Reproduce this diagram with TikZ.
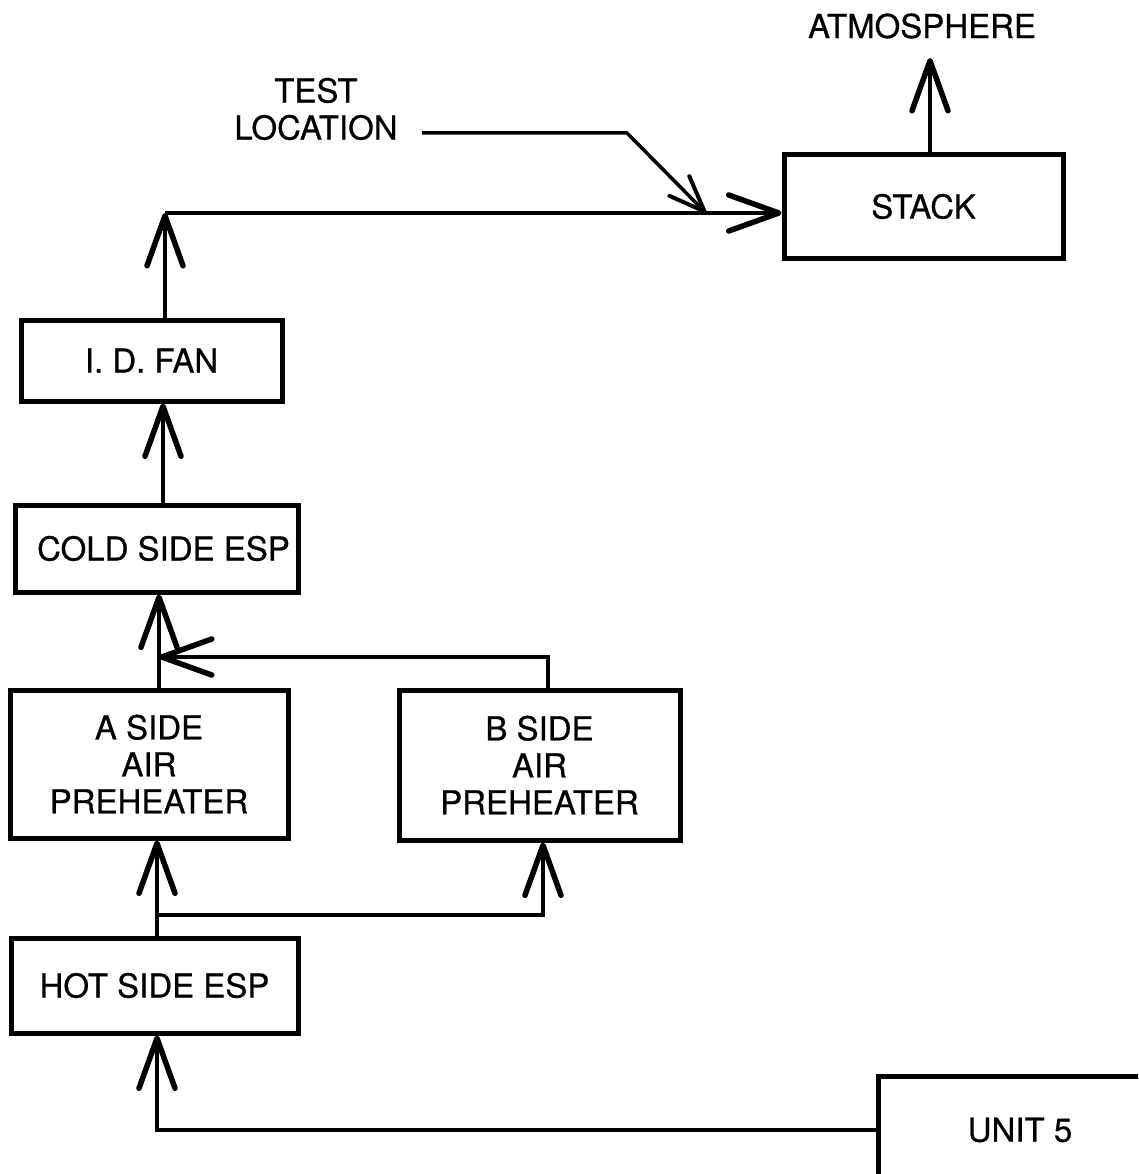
\documentclass[tikz,border=0pt]{standalone}
\usepackage{fontspec}
\setmainfont{TeX Gyre Heros}[FakeBold=0.6]
\usetikzlibrary{arrows.meta}
\begin{document}
\begin{tikzpicture}[x=1pt,y=-1pt,
  box/.style={draw, line width=5pt, inner sep=0pt, align=center,
    font=\fontsize{33}{37}\selectfont},
  lbl/.style={inner sep=0pt, align=center, font=\fontsize{33}{37}\selectfont},
  flow/.style={line width=4.5pt, -{Straight Barb[length=50pt,width=36pt,line width=5.5pt,round]}},
  thinflow/.style={line width=3.5pt, -{Straight Barb[length=36pt,width=28pt,line width=4pt,round]}}]
\useasboundingbox (0,0) rectangle (1138,1174);
\clip (0,0) rectangle (1138,1174);

% boxes
\node[box, minimum width=279pt, minimum height=103pt] (stack) at (923.5,206.5) {STACK};
\node[box, minimum width=261pt, minimum height=81pt] (fan) at (151.5,360.5) {I. D. FAN};
\node[box, minimum width=283pt, minimum height=87pt] (cold) at (156.5,548.5) {\hspace*{14pt}COLD SIDE ESP};
\node[box, minimum width=278pt, minimum height=148pt] (apre) at (149,764) {A SIDE\\AIR\\PREHEATER};
\node[box, minimum width=281pt, minimum height=150pt] (bpre) at (539.5,765) {B SIDE\\AIR\\PREHEATER};
\node[box, minimum width=287pt, minimum height=95pt] (hot) at (154.5,985.5) {HOT SIDE ESP};
\node[box, minimum width=284pt, minimum height=108pt] (unit) at (1020,1130) {UNIT 5};

% labels
\node[lbl] (atm) at (922,26) {ATMOSPHERE};
\node[lbl] (test) at (316,109) {TEST\\LOCATION};

% columns and bends
\coordinate (c1) at (157,0);
\coordinate (c2) at (543,0);
\coordinate (c3) at (159,0);
\coordinate (c4) at (548,0);
\coordinate (c5) at (163,0);
\coordinate (c6) at (165,0);
\coordinate (c7) at (930,0);
\coordinate (br) at (157,915);
\coordinate (mg) at (159,657);
\coordinate (tc) at (165,213);
\coordinate (atmtip) at (930,58);
\coordinate (t1) at (422,133);
\coordinate (t2) at (627,133);
\coordinate (t3) at (706,213);

% connectors
\draw[flow] (unit.west) -| (hot.south -| c1);
\draw[flow] (hot.north -| c1) -- (apre.south -| c1);
\draw[flow] (br) -| (bpre.south -| c2);
\draw[flow] (apre.north -| c3) -- (cold.south -| c3);
\draw[flow] (bpre.north -| c4) |- (mg);
\draw[flow] (cold.north -| c5) -- (fan.south -| c5);
\draw[flow] (fan.north -| c6) -- (tc);
\draw[flow] (tc) -- (stack.west |- tc);
\draw[flow] (stack.north -| c7) -- (atmtip);
\draw[thinflow, line join=round] (t1) -- (t2) -- (t3);
\end{tikzpicture}
\end{document}
